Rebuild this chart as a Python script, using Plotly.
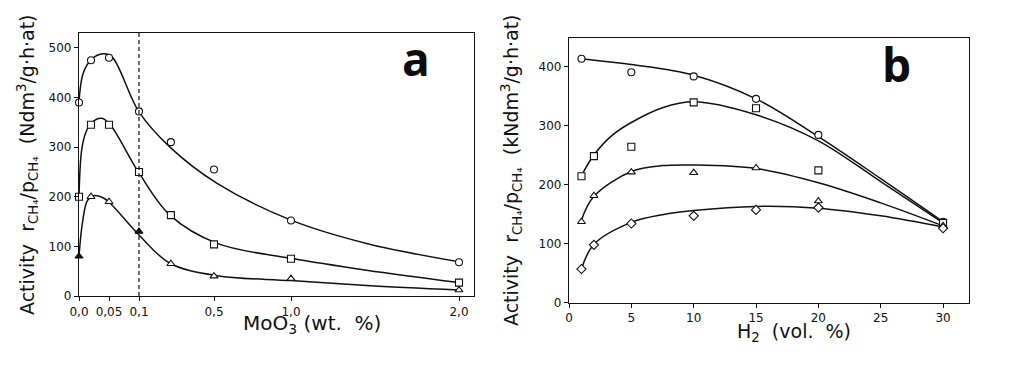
import numpy as np
import plotly.graph_objects as go

# ---------------- Panel a : activity vs MoO3 content ----------------
a_x = [0.0, 0.02, 0.05, 0.1, 0.27, 0.5, 1.0, 2.0]
a_circ = [390, 475, 480, 372, 310, 255, 152, 68]
a_sq = [200, 345, 345, 250, 163, 104, 75, 27]
a_tri = [80, 200, 190, 130, 65, 40, 35, 12]
a_tri_filled = [True, False, False, True, False, False, False, False]

# fitted curves
a_fit_circ_x = [0.0, 0.007, 0.021, 0.04, 0.055, 0.1, 0.265, 0.52, 1.0, 1.45, 2.0]
a_fit_circ_y = [390, 449, 477, 488, 482, 371, 300, 227, 153, 106, 69]
a_fit_sq_x = [0.0, 0.004, 0.01, 0.02, 0.038, 0.052, 0.1, 0.265, 0.52, 1.0, 1.45, 2.0]
a_fit_sq_y = [200, 290, 325, 348, 358, 345, 248, 163, 106, 76, 52, 27]
a_fit_tri_x = [0.0, 0.006, 0.014, 0.024, 0.04, 0.052, 0.1, 0.265, 0.52, 1.0, 1.45, 2.0]
a_fit_tri_y = [80, 150, 192, 202, 198, 187, 123, 66, 41, 31, 21, 12]

a_ticks = [0.0, 0.05, 0.1, 0.5, 1.0, 2.0]
a_ticktext = ["0,0", "0,05", "0,1", "0,5", "1,0", "2,0"]

# ---------------- Panel b : activity vs H2 content ----------------
b_x = [1, 2, 5, 10, 15, 20, 30]
b_circ_x = [1, 5, 10, 15, 20, 30]
b_circ = [413, 390, 383, 345, 284, 137]
b_sq = [214, 248, 264, 339, 329, 224, 135]
b_tri = [137, 181, 221, 220, 228, 172, 130]
b_dia = [57, 98, 134, 147, 157, 161, 126]

b_fit_circ_x = [1, 5, 10, 15, 20, 25, 30]
b_fit_circ_y = [413, 403, 385, 345, 281, 210, 137]
b_fit_sq_x = [1, 2, 3.5, 5, 7.5, 10, 15, 20, 25, 30]
b_fit_sq_y = [215, 250, 284, 305, 330, 340, 318, 274, 205, 135]
b_fit_tri_x = [1, 2, 5, 7.5, 10, 15, 20, 25, 30]
b_fit_tri_y = [140, 180, 222, 232, 233, 227, 203, 169, 130]
b_fit_dia_x = [1, 2, 5, 7.5, 10, 15, 20, 25, 30]
b_fit_dia_y = [57, 99, 136, 149, 156, 163, 160, 147, 128]

# piecewise axis scale of panel a (data value -> axis coordinate)
A_KNOT_X = [0.0, 0.1, 0.5, 1.0, 2.0, 2.09]
A_KNOT_U = [0.0, 60.0, 135.0, 212.0, 380.0, 395.0]


def ax_a(v):
    return list(np.interp(v, A_KNOT_X, A_KNOT_U))


FONT = "DejaVu Sans"
INK = "#111111"
W, H = 1024, 369
OFF = 8  # page body margin offset


def px(x):
    return (x - OFF) / W


def py(y):
    return 1 - (y - OFF) / H


fig = go.Figure()


def add_pts(x, y, sym, xa, ya, size=7, fill="white"):
    fig.add_trace(go.Scatter(x=x, y=y, mode="markers", xaxis=xa, yaxis=ya,
                             marker=dict(symbol=sym, size=size, color=fill,
                                         line=dict(color=INK, width=1.1)),
                             cliponaxis=False, showlegend=False))


def add_fit(x, y, xa, ya):
    fig.add_trace(go.Scatter(x=x, y=y, mode="lines", xaxis=xa, yaxis=ya,
                             line=dict(color=INK, width=1.5, shape="spline", smoothing=1.0),
                             showlegend=False, hoverinfo="skip"))


# panel a
add_fit(ax_a(a_fit_circ_x), a_fit_circ_y, "x", "y")
add_fit(ax_a(a_fit_sq_x), a_fit_sq_y, "x", "y")
add_fit(ax_a(a_fit_tri_x), a_fit_tri_y, "x", "y")
add_pts(ax_a(a_x), a_circ, "circle", "x", "y")
add_pts(ax_a(a_x), a_sq, "square", "x", "y")
add_pts(ax_a(a_x), a_tri, "triangle-up", "x", "y",
        fill=[INK if f else "white" for f in a_tri_filled])

# panel b
add_fit(b_fit_circ_x, b_fit_circ_y, "x2", "y2")
add_fit(b_fit_sq_x, b_fit_sq_y, "x2", "y2")
add_fit(b_fit_tri_x, b_fit_tri_y, "x2", "y2")
add_fit(b_fit_dia_x, b_fit_dia_y, "x2", "y2")
add_pts(b_circ_x, b_circ, "circle", "x2", "y2")
add_pts(b_x, b_sq, "square", "x2", "y2")
add_pts(b_x, b_tri, "triangle-up", "x2", "y2")
add_pts(b_x, b_dia, "diamond", "x2", "y2")

axis_common = dict(showline=True, mirror=True, linecolor=INK, linewidth=1.3,
                   showgrid=False, zeroline=False, ticks="outside", ticklen=4,
                   tickwidth=1, tickcolor=INK, automargin=False,
                   tickfont=dict(family=FONT, size=12, color=INK))

fig.update_layout(
    width=W, height=H,
    margin=dict(l=0, r=0, t=0, b=0, autoexpand=False),
    paper_bgcolor="white", plot_bgcolor="white",
    xaxis=dict(domain=[px(79), px(474)], range=[0, 395],
               tickvals=ax_a(a_ticks), ticktext=a_ticktext, **axis_common),
    yaxis=dict(domain=[py(296), py(33)], range=[0, 530],
               tickvals=[0, 100, 200, 300, 400, 500], **axis_common),
    xaxis2=dict(domain=[px(569), px(968.5)], range=[0, 32.04],
                tickvals=[0, 5, 10, 15, 20, 25, 30], anchor="y2", **axis_common),
    yaxis2=dict(domain=[py(302.7), py(38)], range=[0, 448],
                tickvals=[0, 100, 200, 300, 400], anchor="x2", **axis_common),
)

# dashed line at 0.1 wt.%
fig.add_shape(type="line", xref="x", yref="y domain",
              x0=ax_a([0.1])[0], x1=ax_a([0.1])[0], y0=0, y1=1,
              line=dict(color=INK, width=1.2, dash="4px,3px"))

ytitle_a = "Activity  r<sub>CH₄</sub>/p<sub>CH₄</sub>  (Ndm<sup>3</sup>/g·h·at)"
ytitle_b = "Activity  r<sub>CH₄</sub>/p<sub>CH₄</sub>  (kNdm<sup>3</sup>/g·h·at)"

anns = [
    dict(text=ytitle_a, x=27, y=165, textangle=-90, size=19),
    dict(text=ytitle_b, x=512, y=170, textangle=-90, size=19),
    dict(text="MoO<sub>3</sub> (wt.  %)", x=312, y=324, textangle=0, size=20),
    dict(text="H<sub>2</sub>  (vol.  %)", x=794, y=332, textangle=0, size=19),
]
for a in anns:
    fig.add_annotation(text=a["text"], xref="paper", yref="paper",
                       x=px(a["x"]), y=py(a["y"]),
                       xanchor="center", yanchor="middle", showarrow=False,
                       textangle=a["textangle"],
                       font=dict(family=FONT, size=a["size"], color=INK))

for lbl, x, y in [("a", 416, 58), ("b", 896, 64)]:
    fig.add_annotation(text="<b>%s</b>" % lbl, xref="paper", yref="paper",
                       x=px(x), y=py(y), xanchor="center", yanchor="middle",
                       showarrow=False,
                       font=dict(family="Open Sans", size=46, color="#0d0d0d"))

fig.write_html("out.html")
